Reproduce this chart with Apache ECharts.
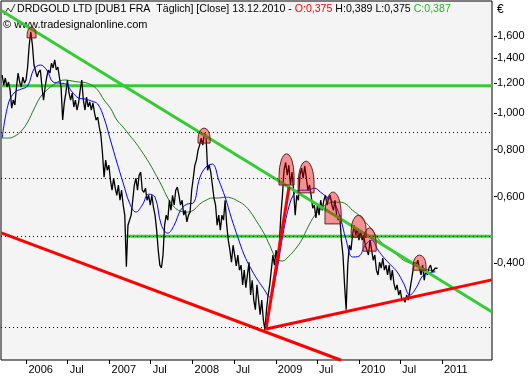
<!DOCTYPE html>
<html><head><meta charset="utf-8">
<script src="https://cdn.jsdelivr.net/npm/echarts@6/dist/echarts.min.js"></script>
<style>html,body{margin:0;padding:0;background:#fff}#c{width:531px;height:380px}</style>
</head><body><div id="c"></div>
<script>
// ---- data ----
const yTicks = [0.4, 0.6, 0.8, 1.0, 1.2, 1.4, 1.6];
const xTickDates = ['2006-01-01','2006-07-01','2007-01-01','2007-07-01','2008-01-01','2008-07-01','2009-01-01','2009-07-01','2010-01-01','2010-07-01','2011-01-01'];
const xTickLabels = ['2006','Jul','2007','Jul','2008','Jul','2009','Jul','2010','Jul','2011'];

// weekly closes starting 2005-09-16
const closeStart = '2005-09-16';
const closes = [
1.261,1.186,1.238,1.172,1.208,1.150,1.030,1.082,1.050,1.172,
1.276,1.208,1.172,1.245,1.200,1.223,1.324,1.514,1.640,1.514,
1.340,1.324,1.245,1.284,1.300,1.172,1.082,1.172,1.245,1.300,
1.276,1.356,1.316,1.382,1.300,1.324,1.238,1.172,0.958,1.063,
1.129,1.223,1.129,1.082,1.129,1.037,1.082,1.018,1.063,1.150,
1.223,1.082,1.018,1.102,1.037,1.069,1.018,1.063,1.000,0.958,
0.975,0.917,0.873,0.782,0.676,0.750,0.705,0.727,0.664,0.624,
0.672,0.632,0.605,0.644,0.587,0.624,0.570,0.536,0.391,0.504,
0.504,0.536,0.587,0.644,0.672,0.624,0.684,0.697,0.624,0.616,
0.632,0.587,0.605,0.570,0.605,0.563,0.536,0.489,0.433,0.395,
0.388,0.420,0.504,0.536,0.520,0.587,0.552,0.605,0.570,0.624,
0.636,0.605,0.570,0.587,0.536,0.552,0.514,0.536,0.546,0.624,
0.672,0.727,0.750,0.797,0.822,0.857,0.822,0.884,0.873,0.705,
0.727,0.697,0.644,0.595,0.570,0.504,0.536,0.489,0.536,0.520,
0.587,0.504,0.460,0.433,0.402,0.446,0.420,0.393,0.420,0.383,
0.395,0.350,0.383,0.344,0.372,0.402,0.329,0.360,0.319,0.301,
0.350,0.319,0.292,0.319,0.283,0.266,0.301,0.329,0.350,0.383,
0.420,0.395,0.433,0.402,0.446,0.536,0.605,0.705,0.740,0.684,
0.727,0.644,0.697,0.624,0.536,0.605,0.587,0.684,0.714,0.672,
0.723,0.672,0.624,0.644,0.605,0.559,0.570,0.527,0.570,0.536,
0.587,0.552,0.587,0.605,0.570,0.595,0.605,0.570,0.552,0.587,
0.536,0.520,0.536,0.460,0.420,0.350,0.301,0.395,0.446,0.433,
0.474,0.504,0.474,0.495,0.460,0.489,0.460,0.474,0.446,0.433,
0.420,0.460,0.433,0.407,0.420,0.383,0.372,0.402,0.388,0.412,
0.383,0.395,0.372,0.395,0.360,0.383,0.354,0.339,0.350,0.329,
0.339,0.319,0.323,0.315,0.329,0.319,0.339,0.360,0.383,0.402,
0.395,0.407,0.388,0.372,0.395,0.360,0.383,0.372,0.388,0.395,
0.379,0.383,0.388,0.388
];
const lastDate = '2010-12-13';
const lastClose = 0.387;

// moving averages, one value every 4 weeks from 2005-09-16
const maStart = '2005-09-16';
const maShort = [
0.858,1.063,1.136,1.157,1.179,1.308,1.340,1.300,1.208,1.200,
1.193,1.136,1.096,1.089,1.076,1.056,0.969,0.847,0.741,0.652,
0.577,0.546,0.570,0.609,0.598,0.504,0.480,0.504,0.552,0.573,
0.577,0.672,0.719,0.732,0.664,0.598,0.526,0.468,0.420,0.388,
0.363,0.343,0.325,0.372,0.468,0.563,0.616,0.624,0.624,0.632,
0.616,0.598,0.580,0.533,0.460,0.415,0.417,0.446,0.460,0.433,
0.412,0.395,0.379,0.354,0.329,0.344,0.370,0.377,0.379
];
const maLong = [
0.858,0.858,0.868,0.895,0.946,1.024,1.102,1.150,1.186,1.215,
1.223,1.215,1.208,1.204,1.186,1.150,1.082,1.030,0.958,0.917,
0.873,0.832,0.787,0.741,0.692,0.644,0.595,0.563,0.549,0.546,
0.552,0.573,0.587,0.595,0.595,0.598,0.595,0.584,0.570,0.546,
0.514,0.483,0.446,0.412,0.405,0.417,0.435,0.460,0.498,0.533,
0.556,0.573,0.580,0.580,0.573,0.552,0.536,0.514,0.492,0.465,
0.446,0.433,0.420,0.407,0.400,0.393,0.388,0.383,0.381
];

// drawn annotations
const dottedLevels = [0.890, 0.672, 0.471, 0.2675];
const greenHLines = [ [['2005-09-11',1.18],['2011-08-09',1.18]], [['2007-03-10',0.471],['2011-08-09',0.471]] ];
const greenTrend = [['2005-09-12',1.870],['2011-08-08',0.297]];
const redLines = [
  [['2005-09-12',0.481],['2009-10-15',0.221]],
  [['2008-11-19',0.2675],['2011-08-08',0.361]],
  [['2008-11-19',0.2675],['2009-02-28',0.636]]
];
// arches: start, end, low, high
const arches = [
  ['2006-01-04','2006-02-12',1.581,1.690],
  ['2008-01-25','2008-03-18',0.832,0.912],
  ['2009-01-15','2009-03-22',0.644,0.779],
  ['2009-04-09','2009-06-18',0.614,0.745],
  ['2009-08-05','2009-10-15',0.508,0.617],
  ['2009-11-28','2010-02-02',0.468,0.536],
  ['2010-01-19','2010-03-18',0.430,0.496],
  ['2010-08-27','2010-10-23',0.383,0.420]
];

// ---- build ----
const t = s => { const p = s.split('-').map(Number); return Date.UTC(p[0], p[1]-1, p[2]); };
const WEEK = 7*86400000;
const closeData = closes.map((v,i) => [t(closeStart) + i*WEEK, v]);
closeData.push([t(lastDate), lastClose]);
const maShortData = maShort.map((v,i) => [t(maStart) + i*4*WEEK, v]);
const maLongData = maLong.map((v,i) => [t(maStart) + i*4*WEEK, v]);
const conv = seg => seg.map(p => [t(p[0]), p[1]]);
const xTickMs = xTickDates.map(t);
const labelMap = {}; xTickMs.forEach((m,i)=>labelMap[m]=xTickLabels[i]);

const FONT = 'Liberation Sans';
const series = [];
series.push({type:'line', data:[], silent:true,
  markLine:{silent:true, symbol:'none', label:{show:false},
    lineStyle:{type:[1,3], color:'#000', width:1},
    data: dottedLevels.map(v=>({yAxis:v}))}});
greenHLines.forEach(seg => series.push({type:'line', data:conv(seg), symbol:'none', silent:true,
  lineStyle:{color:'#33cc33', width:3}}));
series.push({type:'line', data:maLongData, symbol:'none', smooth:0.4, silent:true, lineStyle:{color:'#1d7a1d', width:1}});
series.push({type:'line', data:closeData, symbol:'none', silent:true, lineStyle:{color:'#000', width:1.3}});
series.push({type:'line', data:maShortData, symbol:'none', smooth:0.4, silent:true, lineStyle:{color:'#0000ff', width:1}});
series.push({type:'line', data:conv(greenTrend), symbol:'none', silent:true, lineStyle:{color:'#33cc33', width:3}});
redLines.forEach(seg => series.push({type:'line', data:conv(seg), symbol:'none', silent:true,
  lineStyle:{color:'#ff0000', width:3}}));
series.push({type:'custom', silent:true, clip:true, z:5,
  data: arches.map(a => [t(a[0]), t(a[1]), a[2], a[3]]),
  renderItem(params, api){
    const p0 = api.coord([api.value(0), api.value(2)]);
    const p1 = api.coord([api.value(1), api.value(3)]);
    const x0=p0[0], x1=p1[0], yb=p0[1], yt=p1[1];
    const r=(x1-x0)/2;
    const ry=(yb-yt)*0.7;
    const path = `M${x0} ${yb} L${x0} ${yt+ry} A${r} ${ry} 0 0 1 ${x1} ${yt+ry} L${x1} ${yb} Z`;
    return {type:'path', shape:{pathData:path},
      style:{fill:'rgba(240,0,0,0.4)', stroke:'#6a2020', lineWidth:1}};
  }
});

const chart = echarts.init(document.getElementById('c'), null, {renderer:'canvas'});
chart.setOption({
  animation:false,
  backgroundColor:'#ffffff',
  grid:{left:1, top:1, width:491, height:359, show:true, backgroundColor:'#f4f4f4', borderColor:'#000', borderWidth:1},
  xAxis:{type:'value', min:t('2005-09-11'), max:t('2011-08-09'),
    axisLine:{show:false}, splitLine:{show:false},
    axisTick:{show:true, length:4, lineStyle:{color:'#000'}, customValues:xTickMs},
    axisLabel:{customValues:xTickMs, formatter:v=>labelMap[v]||'', align:'left', padding:[0,0,0,2], margin:4,
      fontFamily:FONT, fontSize:11, color:'#000'}},
  yAxis:{type:'log', position:'right', min:0.2213, max:1.981, offset:2,
    axisLine:{show:false}, splitLine:{show:false}, minorTick:{show:false},
    axisTick:{show:true, length:3, lineStyle:{color:'#000'}, customValues:yTicks},
    axisLabel:{customValues:yTicks, formatter:v=>Number(v).toFixed(3).replace('.',','), margin:3,
      fontFamily:FONT, fontSize:11, color:'#000'}},
  graphic:[
    {type:'polyline', shape:{points:[[4,15],[8,8],[11,12],[15,4]]}, style:{stroke:'#333', lineWidth:1, fill:null}},
    {type:'text', left:17, top:4, style:{fontFamily:FONT, fontSize:10.6, fill:'#000',
      text:'{a|DRDGOLD LTD [DUB1 FRA  Täglich] [Close] 13.12.2010 - }{r|O:0,375}{a| H:0,389 L:0,375 }{g|C:0,387}',
      rich:{a:{fontFamily:FONT,fontSize:10.6,fill:'#000'}, r:{fontFamily:FONT,fontSize:10.6,fill:'#ff0000'}, g:{fontFamily:FONT,fontSize:10.6,fill:'#22bb22'}}}},
    {type:'text', left:3, top:19, style:{fontFamily:FONT, fontSize:11, fill:'#000', text:'© www.tradesignalonline.com'}},
    {type:'text', left:497, top:4, style:{fontFamily:FONT, fontSize:12, fill:'#000', text:'€'}}
  ],
  series
});
</script></body></html>
